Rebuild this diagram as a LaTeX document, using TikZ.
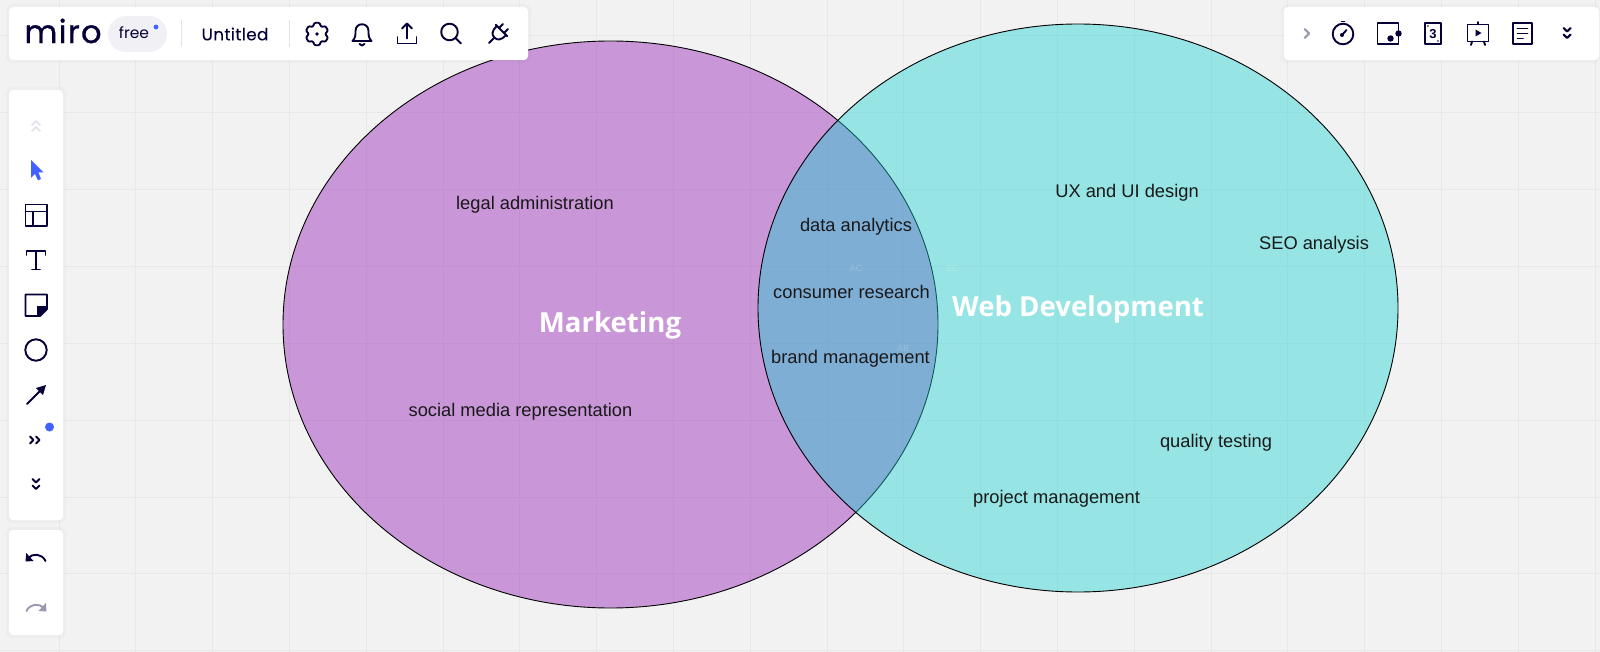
\documentclass[tikz,border=0pt]{standalone}
\usepackage{fontspec}
\setmainfont{Liberation Sans}
\newfontfamily\opensans{Open Sans}
\newfontfamily\popp{Poppins}
\newfontfamily\poppmiro[LetterSpace=4,FakeBold=.9]{Poppins}
\newfontfamily\poppun[LetterSpace=2,FakeBold=.15]{Poppins}
\definecolor{bgc}{HTML}{F2F2F2}
\definecolor{gridc}{HTML}{E8E8E8}
\definecolor{inkc}{HTML}{050038}
\definecolor{bluec}{HTML}{4262FF}
\definecolor{greyc}{HTML}{9A98AE}
\definecolor{palec}{HTML}{E4E4EC}
\definecolor{pillc}{HTML}{F1F0F5}
\definecolor{sepc}{HTML}{E2E2EA}
\definecolor{purplec}{RGB}{145,24,181}
\definecolor{tealc}{RGB}{26,209,209}
\tikzset{
  x=1pt,y=-1pt,
  gridline/.style={gridc,line width=1pt},
  venn/.style={draw=black,line width=.9pt},
  lab/.style={text=black!90,font=\fontsize{18.3}{20}\selectfont,inner sep=0pt},
  title/.style={text=white,font=\opensans\bfseries\fontsize{27.6}{30}\selectfont,inner sep=0pt},
  faint/.style={text=white,text opacity=.2,font=\fontsize{9}{10}\selectfont,inner sep=0pt},
  panel/.style={fill=white,rounded corners=4pt},
  halo/.style={fill=black,fill opacity=.02,rounded corners=6pt},
  ico/.style={draw=inkc,line width=1.9pt,line cap=round,line join=round},
}
\begin{document}
\begin{tikzpicture}
\useasboundingbox (0,0) rectangle (1600,652);
\fill[bgc] (0,0) rectangle (1600,652);
% grid
\foreach \gx in {59,135.8,212.6,289.4,366.2,443,519.8,596.6,673.4,750.2,827,903.8,980.6,1057.4,1134.2,1211,1287.8,1364.6,1441.4,1518.2,1595}
  \draw[gridline] (\gx,0) -- (\gx,652);
\foreach \gy in {36,113,190,267,343.5,420.5,497,573.5,650.5}
  \draw[gridline] (0,\gy) -- (1600,\gy);
% venn
\path[venn,fill=purplec,fill opacity=.42] (610.5,324.5) ellipse [x radius=327.5pt,y radius=283.5pt];
\path[venn,fill=tealc,fill opacity=.42,draw opacity=.999] (1078,308) ellipse [x radius=320pt,y radius=284pt];
\node[faint] (fac) at (856,268) {AC};
\node[faint] (fbc) at (952,268) {BC};
\node[faint] (fab) at (903,348) {AB};
\node[lab] (l1) at (535,205) {legal administration};
\node[lab] (l2) at (520.5,412) {social media representation};
\node[lab] (l3) at (856,226.5) {data analytics};
\node[lab] (l4) at (851.5,292) {consumer research};
\node[lab] (l5) at (850.5,359) {brand management};
\node[lab] (l6) at (1127,193) {UX and UI design};
\node[lab] (l7) at (1314,244.5) {SEO analysis};
\node[lab] (l8) at (1216,443) {quality testing};
\node[lab] (l9) at (1056.5,498.5) {project management};
\node[title] (t1) at (610,325) {Marketing};
\node[title] (t2) at (1078,309) {Web Development};
% panels
\fill[halo] (6,4) rectangle (531,63);
\fill[halo] (1281,4) rectangle (1600,63);
\fill[halo] (6,87) rectangle (66,523);
\fill[halo] (6,527) rectangle (66,638);
\path[panel] (9,7) rectangle (528,60);
\path[panel] (1284,7) rectangle (1599,60);
\path[panel] (9,90) rectangle (63,520);
\path[panel] (9,530) rectangle (63,635);
% top left bar
\node[inner sep=0pt,text=inkc,font=\poppmiro\fontsize{32}{36}\selectfont] (miro) at (63,31) {miro};
\fill[pillc,rounded corners=17.9pt] (108,16) rectangle (167,52);
\node[inner sep=0pt,text=inkc,font=\popp\fontsize{15.5}{18}\selectfont] (free) at (134,33) {free};
\fill[bluec] (156,27) circle (2.4pt);
\draw[sepc,line width=1pt] (181.5,20) -- (181.5,47);
\draw[sepc,line width=1pt] (289.5,20) -- (289.5,47);
\node[inner sep=0pt,text=inkc,font=\poppun\fontsize{16.8}{20}\selectfont] (untitled) at (235,34) {Untitled};
% gear
\begin{scope}[shift={(317,34)}]
\draw[ico,rounded corners=1pt] (78:11.5) -- (102:11.5) -- (120:8.3) -- (138:11.5) -- (162:11.5) -- (180:8.3) -- (198:11.5) -- (222:11.5) -- (240:8.3) -- (258:11.5) -- (282:11.5) -- (300:8.3) -- (318:11.5) -- (342:11.5) -- (0:8.3) -- (18:11.5) -- (42:11.5) -- (60:8.3) -- cycle;
\fill[inkc] (0,0) circle (1.8pt);
\end{scope}
% bell
\begin{scope}[shift={(362,34)}]
\draw[ico] (-9.5,7) .. controls (-6.5,4) and (-6.5,1) .. (-6.5,-3) .. controls (-6.5,-12) and (6.5,-12) .. (6.5,-3) .. controls (6.5,1) and (6.5,4) .. (9.5,7) -- cycle;
\draw[ico] (-2.5,10) .. controls (-1.5,12) and (1.5,12) .. (2.5,10);
\end{scope}
% share
\begin{scope}[shift={(407,34)}]
\draw[ico] (-9.5,3) -- (-9.5,9.5) -- (9.5,9.5) -- (9.5,3);
\draw[ico] (0,4.5) -- (0,-10);
\draw[ico] (-5,-5.5) -- (0,-10.5) -- (5,-5.5);
\end{scope}
% search
\begin{scope}[shift={(451,34)}]
\draw[ico] (-1.5,-2) circle (8.3pt);
\draw[ico] (4.5,4) -- (10,9.5);
\end{scope}
% plug
\begin{scope}[shift={(498,34)},rotate=-45]
\draw[ico] (-8,-5) -- (8,-5);
\draw[ico] (-6.5,-5) .. controls (-6.5,3) and (-4,5) .. (0,5) .. controls (4,5) and (6.5,3) .. (6.5,-5);
\draw[ico] (-3.5,-5) -- (-3.5,-10.5);
\draw[ico] (3.5,-5) -- (3.5,-10.5);
\draw[ico] (0,5) -- (0,12.5);
\end{scope}
% left bar
\begin{scope}[shift={(36,127)}]
\draw[palec,line width=2pt,line cap=round,line join=round] (-4,-2) -- (0,-6) -- (4,-2);
\draw[palec,line width=2pt,line cap=round,line join=round] (-4,4) -- (0,0) -- (4,4);
\end{scope}
\fill[bluec,line join=round] (31,160) -- (43.5,172.5) -- (38.5,172.5) -- (41,179) -- (38,180.5) -- (35,174) -- (31,178) -- cycle;
\draw[ico] (25.5,204.5) rectangle (47,226);
\draw[ico] (25.5,211.5) -- (47,211.5);
\draw[ico] (33,211.5) -- (33,226);
\draw[ico] (26.5,255) -- (26.5,251) -- (45.5,251) -- (45.5,255);
\draw[ico] (36,251) -- (36,269.5);
\draw[ico] (32,269.5) -- (40,269.5);
\draw[ico] (25.5,294.5) -- (47,294.5) -- (47,309) -- (40,316) -- (25.5,316) -- cycle;
\fill[inkc] (47,306) -- (47,309) -- (40,316) -- (37,316) -- (37,306) -- cycle;
\draw[ico] (36,350) circle (10.7pt);
\draw[ico] (27,404) -- (42,389);
\fill[inkc] (46,385) -- (43,395) -- (36,388) -- cycle;
\fill[bluec] (49.5,427) circle (4.5pt);
\begin{scope}[shift={(35,440)}]
\draw[ico,line width=2.1pt] (-5,-3.5) -- (-1.5,0) -- (-5,3.5);
\draw[ico,line width=2.1pt] (1,-3.5) -- (4.5,0) -- (1,3.5);
\end{scope}
\begin{scope}[shift={(36,484)}]
\draw[ico,line width=2.1pt] (-3.5,-5) -- (0,-1.5) -- (3.5,-5);
\draw[ico,line width=2.1pt] (-3.5,1.5) -- (0,5) -- (3.5,1.5);
\end{scope}
\begin{scope}[shift={(36,557)}]
\draw[ico] (9.5,4) .. controls (6,-3.5) and (-3,-4) .. (-8,1);
\fill[inkc] (-10.5,4.5) -- (-9.8,-4) -- (-2.5,4) -- cycle;
\end{scope}
\begin{scope}[shift={(36,607)}]
\draw[greyc,line width=1.9pt,line cap=round] (-9.5,4) .. controls (-6,-3.5) and (3,-4) .. (8,1);
\fill[greyc] (10.5,4.5) -- (9.8,-4) -- (2.5,4) -- cycle;
\end{scope}
% right bar
\draw[greyc,line width=2.1pt,line cap=round,line join=round] (1304.5,29) -- (1309,33.5) -- (1304.5,38);
\begin{scope}[shift={(1343,34)}]
\draw[ico] (0,0) circle (10.3pt);
\draw[ico] (-1.5,-12.5) -- (1.5,-12.5);
\draw[ico] (-1,1) -- (3.5,-4);
\fill[inkc] (-1,1) circle (2pt);
\end{scope}
\begin{scope}[shift={(1388,33.5)}]
\draw[ico] (-10.5,-10.5) rectangle (10.5,10.5);
\fill[inkc] (2.5,5) circle (3.2pt);
\fill[inkc] (10.5,0) circle (3.2pt);
\end{scope}
\begin{scope}[shift={(1433,33.5)}]
\draw[ico] (-8,-10.5) rectangle (8,10.5);
\node[inner sep=0pt,text=inkc,font=\bfseries\fontsize{13}{14}\selectfont] (three) at (0,1) {3};
\fill[inkc] (-5,-7.5) circle (.9pt);
\fill[inkc] (5,7.5) circle (.9pt);
\end{scope}
\begin{scope}[shift={(1478,33)}]
\draw[ico] (-10.5,-8.5) rectangle (10.5,8.5);
\draw[ico] (0,-8.5) -- (0,-11);
\draw[ico] (-6,8.5) -- (-7,12);
\draw[ico] (6,8.5) -- (7,12);
\fill[inkc] (-2.5,-3.5) -- (3.5,0) -- (-2.5,3.5) -- cycle;
\end{scope}
\begin{scope}[shift={(1522.5,33.5)}]
\draw[ico] (-9.5,-10.5) rectangle (9.5,10.5);
\draw[ico] (-5,-5) -- (5,-5);
\draw[ico] (-5,0) -- (5,0);
\draw[ico] (-5,5) -- (0.5,5);
\end{scope}
\begin{scope}[shift={(1567,33)}]
\draw[ico,line width=2.1pt] (-3.5,-5) -- (0,-1.5) -- (3.5,-5);
\draw[ico,line width=2.1pt] (-3.5,1.5) -- (0,5) -- (3.5,1.5);
\end{scope}
\end{tikzpicture}
\end{document}
